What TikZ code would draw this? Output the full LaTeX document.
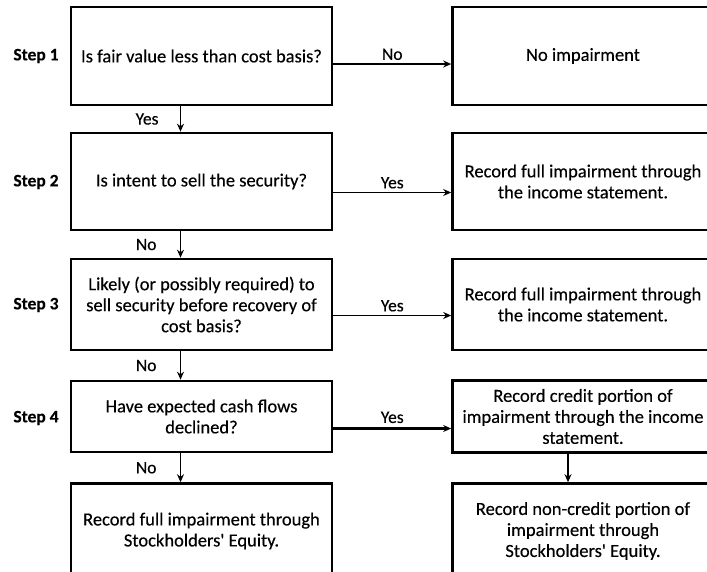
\documentclass[tikz,border=0pt]{standalone}
\usepackage{fontspec}
\setmainfont{Carlito}[FakeBold=0.3, Ligatures=TeXOff]
\usetikzlibrary{arrows.meta}

\tikzset{
	box/.style={draw, line width=2.6pt, align=center, inner sep=2pt, minimum width=261pt, font=\fontsize{18.5}{21}\selectfont},
	steplbl/.style={font=\bfseries\fontsize{17.5}{20}\selectfont},
	edgelbl/.style={font=\fontsize{17.5}{20}\selectfont},
	arr/.style={line width=1.4pt, -{Stealth[length=8pt,width=7pt]}}
}

\begin{document}
\begin{tikzpicture}[x=1pt,y=-1pt]
			%%%%% START %%%%%
			\useasboundingbox (0,0) rectangle (707,571);
			
			% questions
			\node[box, minimum height=98pt] (q1) at (201.5,56) {Is fair value less than cost basis?};
			\node[box, minimum height=97pt] (q2) at (201.5,181.5) {Is intent to sell the security?};
			\node[box, minimum height=91pt] (q3) at (201.5,304.5) {Likely (or possibly required) to\\sell security before recovery of\\cost basis?};
			\node[box, minimum height=71pt] (q4) at (201.5,416.5) {Have expected cash flows\\declined?};
			\node[box, minimum height=95pt] (q5) at (201.5,531) {Record full impairment through\\Stockholders' Equity.};
			
			% outcomes
			\node[box, minimum height=98pt] (r1) at (583,56) {No impairment};
			\node[box, minimum height=97pt] (r2) at (583,181.5) {Record full impairment through\\the income statement.};
			\node[box, minimum height=91pt] (r3) at (583,304.5) {Record full impairment through\\the income statement.};
			\node[box, minimum height=72pt] (r4) at (583,416.5) {Record credit portion of\\impairment through the income\\statement.};
			\node[box, minimum height=95pt] (r5) at (583,531) {Record non-credit portion of\\impairment through\\Stockholders' Equity.};
			
			% steps
			\node[steplbl] (s1) at (36,56) {Step 1};
			\node[steplbl] (s2) at (36,182) {Step 2};
			\node[steplbl] (s3) at (36,305) {Step 3};
			\node[steplbl] (s4) at (36,418) {Step 4};
			
			% down arrows
			\draw[arr] ([xshift=-21pt]q1.south) -- ([xshift=-21pt]q1.south |- q2.north) node[midway, left=18pt, edgelbl] {Yes};
			\draw[arr] ([xshift=-21pt]q2.south) -- ([xshift=-21pt]q2.south |- q3.north) node[midway, left=20pt, edgelbl] {No};
			\draw[arr] ([xshift=-21pt]q3.south) -- ([xshift=-21pt]q3.south |- q4.north) node[midway, left=20pt, edgelbl] {No};
			\draw[arr] ([xshift=-21pt]q4.south) -- ([xshift=-21pt]q4.south |- q5.north) node[midway, left=20pt, edgelbl] {No};
			\draw[arr] ([xshift=-15pt]r4.south) -- ([xshift=-15pt]r4.south |- r5.north);
			
			% across arrows
			\draw[arr] ([yshift=-8pt]q1.east) -- ([yshift=-8pt]q1.east -| r1.west) node[midway, above=0pt, edgelbl] {No};
			\draw[arr] ([yshift=-11pt]q2.east) -- ([yshift=-11pt]q2.east -| r2.west) node[midway, above=0pt, edgelbl] {Yes};
			\draw[arr] ([yshift=-11pt]q3.east) -- ([yshift=-11pt]q3.east -| r3.west) node[midway, above=0pt, edgelbl] {Yes};
			\draw[arr, line width=2.2pt] ([yshift=-12pt]q4.east) -- ([yshift=-12pt]q4.east -| r4.west) node[midway, above=1pt, edgelbl] {Yes};
			
			%%%%% END %%%%%
\end{tikzpicture}
\end{document}
